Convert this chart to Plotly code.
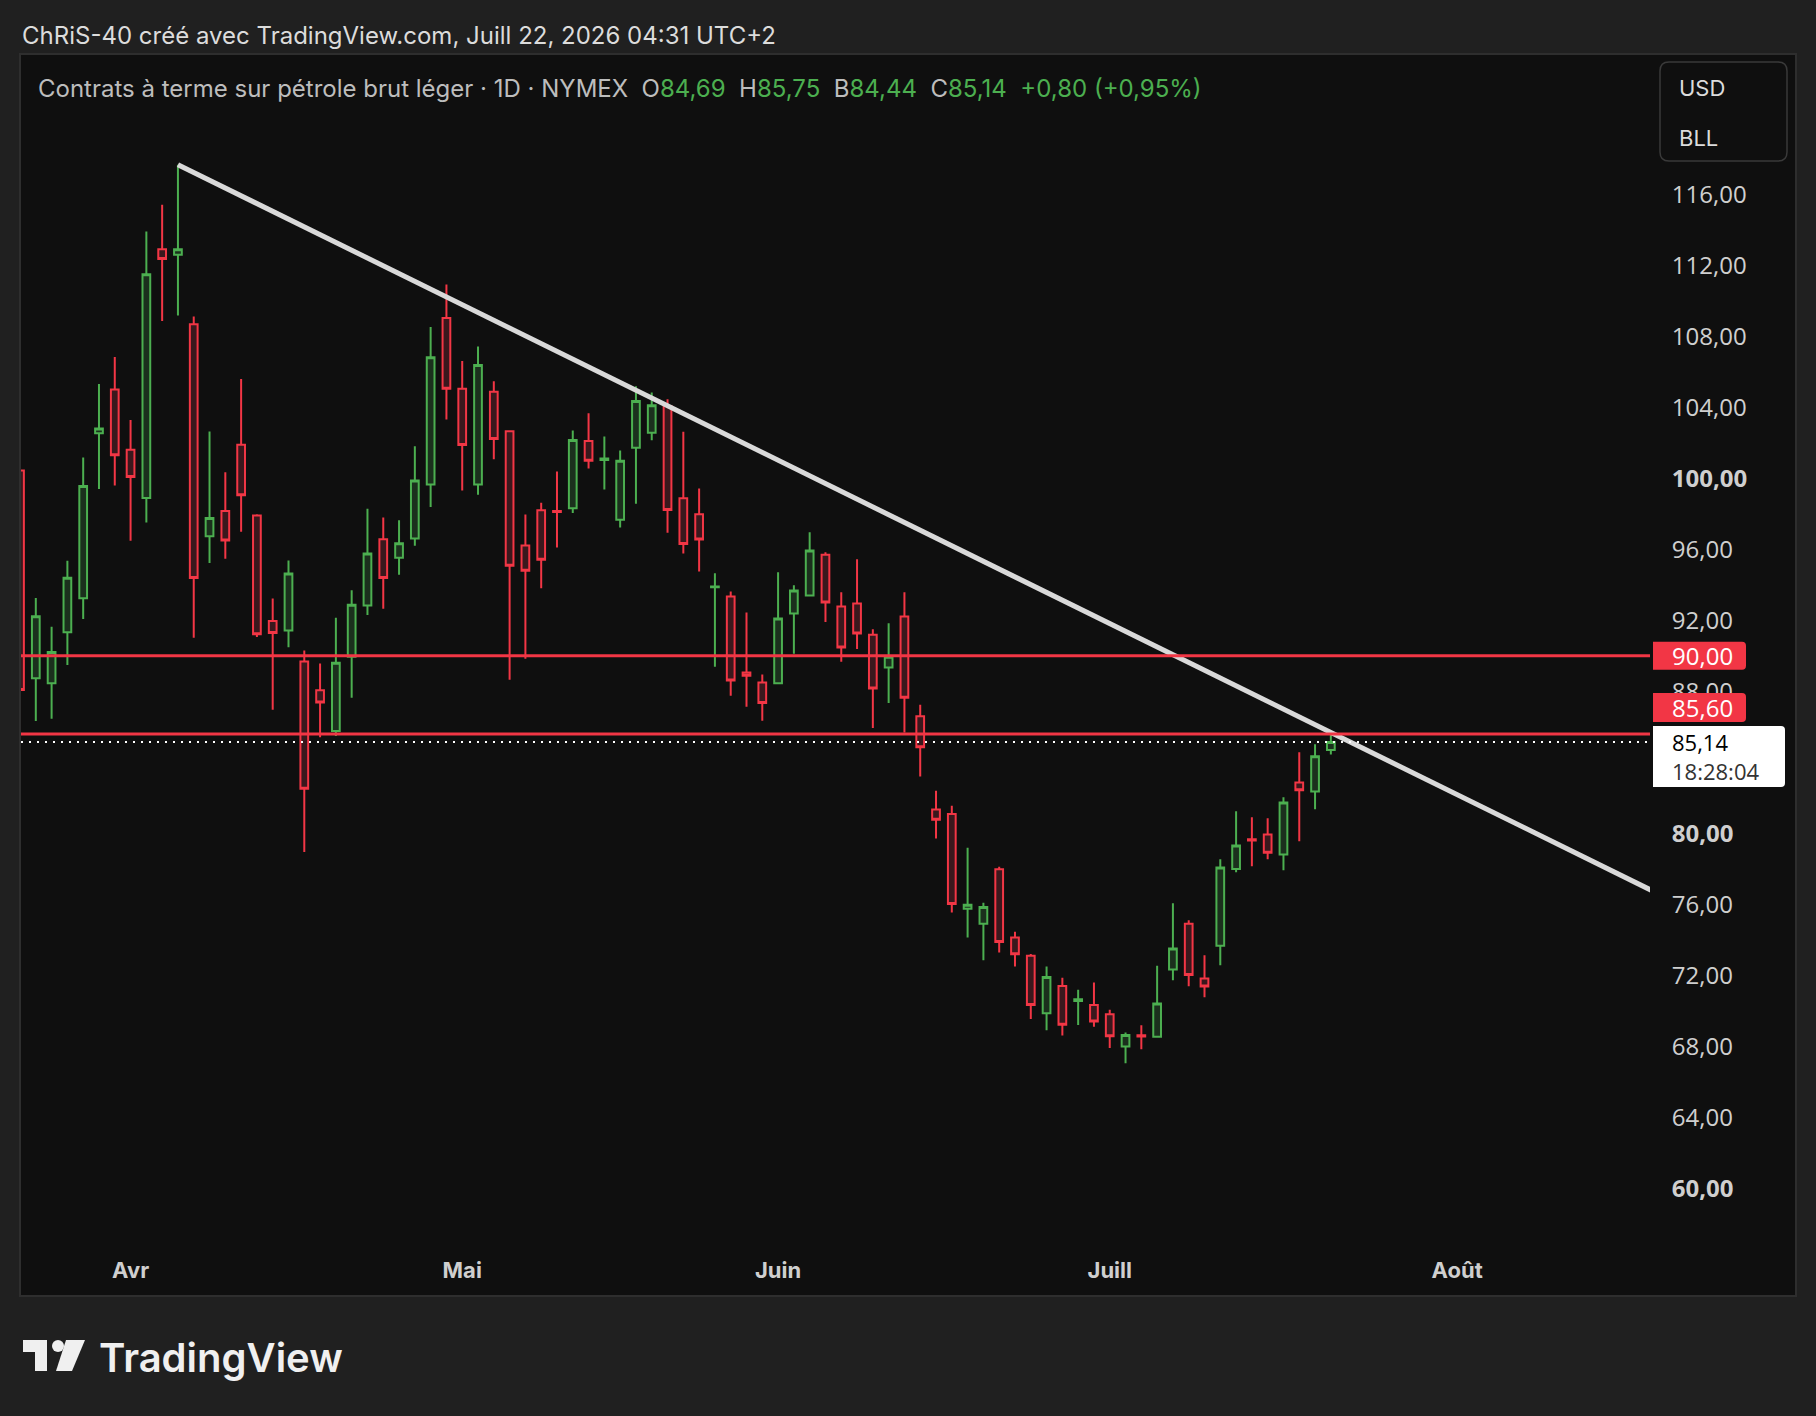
import plotly.graph_objects as go

# ---------------- data ----------------
dates = [
    "2026-03-23", "2026-03-24", "2026-03-25", "2026-03-26", "2026-03-27", "2026-03-30", "2026-03-31",
    "2026-04-01", "2026-04-02", "2026-04-06", "2026-04-07", "2026-04-08", "2026-04-09", "2026-04-10",
    "2026-04-13", "2026-04-14", "2026-04-15", "2026-04-16", "2026-04-17", "2026-04-20", "2026-04-21",
    "2026-04-22", "2026-04-23", "2026-04-24", "2026-04-27", "2026-04-28", "2026-04-29", "2026-04-30",
    "2026-05-01", "2026-05-04", "2026-05-05", "2026-05-06", "2026-05-07", "2026-05-08", "2026-05-11",
    "2026-05-12", "2026-05-13", "2026-05-14", "2026-05-15", "2026-05-18", "2026-05-19", "2026-05-20",
    "2026-05-21", "2026-05-22", "2026-05-26", "2026-05-27", "2026-05-28", "2026-05-29", "2026-06-01",
    "2026-06-02", "2026-06-03", "2026-06-04", "2026-06-05", "2026-06-08", "2026-06-09", "2026-06-10",
    "2026-06-11", "2026-06-12", "2026-06-15", "2026-06-16", "2026-06-17", "2026-06-18", "2026-06-22",
    "2026-06-23", "2026-06-24", "2026-06-25", "2026-06-26", "2026-06-29", "2026-06-30", "2026-07-01",
    "2026-07-02", "2026-07-06", "2026-07-07", "2026-07-08", "2026-07-09", "2026-07-10", "2026-07-13",
    "2026-07-14", "2026-07-15", "2026-07-16", "2026-07-17", "2026-07-20", "2026-07-21", "2026-07-22",
]
opens = [
    100.44, 88.73, 88.45, 91.32, 93.24, 102.54, 105.00,
    101.61, 98.89, 112.90, 112.59, 108.68, 96.74, 98.16,
    101.89, 97.90, 91.96, 91.43, 89.68, 88.06, 85.76,
    89.95, 92.83, 96.57, 95.53, 96.61, 99.65, 109.03,
    105.05, 99.65, 104.87, 102.65, 96.22, 98.20, 98.16,
    98.32, 102.10, 101.03, 97.66, 101.72, 102.57, 104.08,
    98.87, 97.98, 93.86, 93.34, 89.06, 88.50, 88.46,
    92.38, 93.40, 95.70, 92.78, 92.95, 91.18, 89.34,
    92.21, 86.60, 81.34, 81.08, 75.75, 74.90, 77.98,
    74.13, 73.10, 69.86, 71.40, 70.55, 70.32, 69.80,
    67.99, 68.62, 68.53, 72.32, 74.91, 71.82, 73.66,
    77.99, 79.66, 79.93, 78.80, 82.86, 82.35, 84.69,
]
highs = [
    101.66, 93.26, 91.63, 95.36, 101.17, 105.31, 106.84,
    103.29, 113.91, 115.41, 117.67, 109.12, 102.64, 100.34,
    105.60, 97.97, 93.23, 95.37, 90.30, 89.56, 92.14,
    93.69, 98.29, 97.79, 97.63, 101.80, 108.53, 110.92,
    106.61, 107.42, 105.47, 102.70, 97.96, 98.63, 100.38,
    102.69, 103.66, 102.36, 101.56, 105.19, 104.83, 104.46,
    102.63, 99.43, 94.65, 93.62, 92.44, 88.95, 94.71,
    93.98, 96.96, 95.83, 93.58, 95.44, 91.50, 91.84,
    93.58, 87.24, 82.39, 81.55, 79.18, 76.08, 78.11,
    74.45, 73.20, 72.50, 71.86, 71.18, 71.60, 70.06,
    68.77, 69.19, 72.53, 76.06, 75.10, 73.13, 78.54,
    81.24, 80.90, 80.85, 82.03, 84.57, 85.02, 85.75,
]
lows = [
    84.38, 86.32, 86.45, 89.48, 92.07, 99.40, 99.59,
    96.48, 97.51, 108.86, 109.17, 91.01, 95.23, 95.47,
    96.99, 91.06, 86.96, 90.48, 78.94, 85.41, 85.48,
    87.63, 92.30, 92.65, 94.56, 96.20, 98.39, 103.32,
    99.31, 99.08, 101.07, 88.65, 89.84, 93.80, 96.10,
    98.04, 100.55, 99.37, 97.23, 98.57, 102.14, 96.93,
    95.76, 94.75, 89.38, 87.75, 87.13, 86.34, 88.40,
    90.11, 93.35, 91.91, 89.66, 90.38, 85.93, 87.34,
    85.68, 83.20, 79.71, 75.54, 74.13, 72.84, 73.29,
    72.50, 69.54, 68.90, 68.60, 69.20, 69.10, 67.90,
    67.05, 67.83, 68.50, 71.72, 71.38, 70.76, 72.57,
    77.81, 78.14, 78.54, 77.92, 79.55, 81.36, 84.44,
]
closes = [
    88.08, 92.23, 90.21, 94.40, 99.56, 102.80, 101.30,
    100.08, 111.50, 112.36, 112.90, 94.38, 97.77, 96.50,
    99.04, 91.22, 91.29, 94.63, 82.51, 87.37, 89.61,
    92.88, 95.76, 94.38, 96.34, 99.88, 106.82, 105.05,
    101.87, 106.38, 102.22, 95.07, 94.79, 95.41, 98.10,
    102.16, 100.99, 101.11, 100.99, 104.36, 104.12, 98.22,
    96.30, 96.55, 93.90, 88.61, 88.87, 87.34, 92.10,
    93.68, 95.93, 93.00, 90.47, 91.26, 88.16, 89.94,
    87.64, 84.85, 80.76, 76.01, 75.97, 75.84, 73.87,
    73.19, 70.32, 71.90, 69.21, 70.65, 69.40, 68.56,
    68.64, 68.55, 70.41, 73.51, 72.02, 71.37, 78.07,
    79.31, 79.60, 78.90, 81.73, 82.43, 84.34, 85.14,
]

holidays = ["2026-04-03", "2026-05-25", "2026-06-19", "2026-07-03"]
level_lines = [90.00, 85.60]
trend_dates = ["2026-04-07", "2026-08-21"]
trend_prices = [117.67, 76.04]

month_ticks = ["2026-04-01", "2026-05-01", "2026-06-01", "2026-07-01", "2026-08-03"]
month_labels = ["Avr", "Mai", "Juin", "Juill", "Août"]
price_ticks = [60, 64, 68, 72, 76, 80, 88, 92, 96, 100, 104, 108, 112, 116]
price_labels = ["<b>60,00</b>", "64,00", "68,00", "72,00", "76,00", "<b>80,00</b>", "88,00",
                "92,00", "96,00", "<b>100,00</b>", "104,00", "108,00", "112,00", "116,00"]

countdown = "18:28:04"
title_line = "ChRiS-40 créé avec TradingView.com, Juill 22, 2026 04:31 UTC+2"
symbol_desc = "Contrats à terme sur pétrole brut léger · 1D · NYMEX"
currency_labels = ["USD", "BLL"]

# ---------------- style ----------------
W, H = 1816, 1416
ML, MR, MT, MB = 21, 166, 55, 161
PW, PH = W - ML - MR, H - MT - MB
Y_RANGE = [56.24, 123.85]
X_RANGE = ["2026-03-23 01:30", "2026-08-19 05:00"]

GREEN = "#4caf50"
RED = "#f23645"
GREEN_FILL = "#1b301d"
RED_FILL = "#3a181d"
BG_OUT = "#202020"
BG_PANEL = "#0f0f0f"
FONT = "Inter, Roboto, sans-serif"
NUMFONT = "'Open Sans', Roboto, sans-serif"
AXIS_TXT = "#cfcfcf"


def px(x):
    return (x - ML) / PW


def py(y):
    return (MT + PH - y) / PH


def fr(v):
    return f"{v:.2f}".replace(".", ",")


def rounded_path(x0, y0, x1, y1, rl, rr):
    X, Y = px, py
    return (f"M {X(x0 + rl)},{Y(y0)} L {X(x1 - rr)},{Y(y0)} Q {X(x1)},{Y(y0)} {X(x1)},{Y(y0 + rr)} "
            f"L {X(x1)},{Y(y1 - rr)} Q {X(x1)},{Y(y1)} {X(x1 - rr)},{Y(y1)} "
            f"L {X(x0 + rl)},{Y(y1)} Q {X(x0)},{Y(y1)} {X(x0)},{Y(y1 - rl)} "
            f"L {X(x0)},{Y(y0 + rl)} Q {X(x0)},{Y(y0)} {X(x0 + rl)},{Y(y0)} Z")


def price_to_py(p):
    return MT + (Y_RANGE[1] - p) * PH / (Y_RANGE[1] - Y_RANGE[0])


fig = go.Figure()

fig.add_trace(go.Candlestick(
    x=dates, open=opens, high=highs, low=lows, close=closes,
    increasing=dict(line=dict(color=GREEN, width=2), fillcolor=GREEN_FILL),
    decreasing=dict(line=dict(color=RED, width=2), fillcolor=RED_FILL),
    whiskerwidth=0, showlegend=False, hoverinfo="skip",
))

fig.add_trace(go.Scatter(
    x=trend_dates, y=trend_prices, mode="lines",
    line=dict(color="#d9d9d9", width=5), showlegend=False, hoverinfo="skip",
))

shapes = []
shapes.append(dict(type="rect", xref="paper", yref="paper", x0=px(20), x1=px(1796), y0=py(1296), y1=py(54),
                   fillcolor=BG_PANEL, line=dict(color="#2e2e2e", width=2), layer="below"))
for lv in level_lines:
    shapes.append(dict(type="line", xref="paper", yref="y", x0=0, x1=1, y0=lv, y1=lv,
                       line=dict(color=RED, width=3)))
last_price = closes[-1]
shapes.append(dict(type="line", xref="paper", yref="y", x0=0, x1=1, y0=last_price, y1=last_price,
                   line=dict(color="#ffffff", width=2, dash="2px,6px")))

y90 = price_to_py(level_lines[0])
shapes.append(dict(type="path", xref="paper", yref="paper", path=rounded_path(1653, y90 - 14, 1746, y90 + 14, 0, 4),
                   fillcolor=RED, line=dict(width=0)))
shapes.append(dict(type="path", xref="paper", yref="paper", path=rounded_path(1653, 693, 1746, 722, 0, 4),
                   fillcolor=RED, line=dict(width=0)))
shapes.append(dict(type="path", xref="paper", yref="paper", path=rounded_path(1653, 726, 1785, 787, 0, 4),
                   fillcolor="#ffffff", line=dict(width=0)))
shapes.append(dict(type="path", xref="paper", yref="paper", path=rounded_path(1660, 62, 1787, 161, 9, 9),
                   fillcolor=BG_PANEL, line=dict(color="#3a3a3a", width=1.5)))

logo_T = [(23, 1340), (47, 1340), (47, 1371), (35, 1371), (35, 1352), (23, 1352)]
logo_S = [(66, 1340), (85, 1340), (72, 1371), (56, 1371)]
for poly in (logo_T, logo_S):
    path = "M " + " L ".join(f"{px(a)},{py(b)}" for a, b in poly) + " Z"
    shapes.append(dict(type="path", xref="paper", yref="paper", path=path, fillcolor="#f0f0f0", line=dict(width=0)))
shapes.append(dict(type="circle", xref="paper", yref="paper", x0=px(52), x1=px(64), y0=py(1352), y1=py(1340),
                   fillcolor="#f0f0f0", line=dict(width=0)))

annotations = []
annotations.append(dict(xref="paper", yref="paper", x=px(20), y=py(36), xanchor="left", yanchor="middle",
                        text=title_line, showarrow=False, font=dict(family=FONT, size=24, color="#dcdcdc")))

o, h, l, c = opens[-1], highs[-1], lows[-1], closes[-1]
chg = c - closes[-2]
pct = chg / closes[-2] * 100
g = lambda s: f"<span style='color:{GREEN}'>{s}</span>"
sp = "\u00a0\u00a0"
legend_txt = (f"{symbol_desc}{sp}O{g(fr(o))}{sp}H{g(fr(h))}{sp}B{g(fr(l))}{sp}C{g(fr(c))}"
              f"{sp}{g('+' + fr(chg) + ' (+' + fr(pct) + '%)')}")
annotations.append(dict(xref="paper", yref="paper", x=px(36), y=py(89), xanchor="left", yanchor="middle",
                        text=legend_txt, showarrow=False, font=dict(family=FONT, size=24, color="#bdbdbd")))

annotations.append(dict(xref="paper", yref="paper", x=px(1670), y=py(y90), xanchor="left", yanchor="middle",
                        text=fr(level_lines[0]), showarrow=False, font=dict(family=NUMFONT, size=24, color="#ffffff")))
annotations.append(dict(xref="paper", yref="paper", x=px(1670), y=py(707.5), xanchor="left", yanchor="middle",
                        text=fr(level_lines[1]), showarrow=False, font=dict(family=NUMFONT, size=24, color="#ffffff")))
last_txt = f"{fr(last_price)}<br><span style='color:#333333'>{countdown}</span>"
annotations.append(dict(xref="paper", yref="paper", x=px(1670), y=py(756), xanchor="left", yanchor="middle",
                        text=last_txt, showarrow=False, align="left",
                        font=dict(family=NUMFONT, size=22, color="#000000")))
for i, t in enumerate(currency_labels):
    annotations.append(dict(xref="paper", yref="paper", x=px(1677), y=py(88 + 50 * i), xanchor="left",
                            yanchor="middle", text=t, showarrow=False,
                            font=dict(family=FONT, size=22, color="#dcdcdc")))
annotations.append(dict(xref="paper", yref="paper", x=px(97), y=py(1357), xanchor="left", yanchor="middle",
                        text="TradingView", showarrow=False,
                        font=dict(family=FONT, size=40, color="#f0f0f0", weight=600)))

fig.update_layout(
    width=W, height=H,
    margin=dict(l=ML, r=MR, t=MT, b=MB, pad=0),
    paper_bgcolor=BG_OUT, plot_bgcolor=BG_PANEL,
    font=dict(family=FONT, color=AXIS_TXT),
    shapes=shapes, annotations=annotations,
    showlegend=False,
    xaxis=dict(
        type="date", range=X_RANGE,
        rangebreaks=[dict(bounds=["sat", "mon"]), dict(values=holidays)],
        rangeslider=dict(visible=False),
        tickvals=month_ticks, ticktext=[f"<b>{m}</b>" for m in month_labels],
        tickfont=dict(family=FONT, size=22, color=AXIS_TXT),
        showgrid=False, zeroline=False, showline=False, ticks="",
    ),
    yaxis=dict(
        side="right", range=Y_RANGE,
        tickvals=price_ticks, ticktext=price_labels,
        tickfont=dict(family=NUMFONT, size=24, color=AXIS_TXT),
        showgrid=False, zeroline=False, showline=False,
        ticks="outside", ticklen=16, tickcolor="rgba(0,0,0,0)",
    ),
)

fig.write_html("out.html")
